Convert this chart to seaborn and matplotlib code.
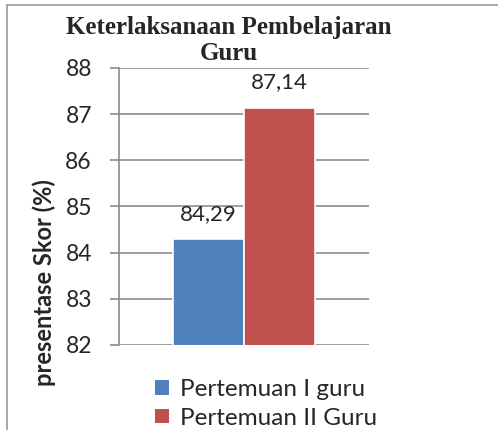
import pandas as pd
import matplotlib
matplotlib.use("Agg")
import matplotlib.pyplot as plt
import seaborn as sns
from matplotlib.lines import Line2D
from matplotlib.patches import Patch

# data
kategori = ["Guru"]
seri = ["Pertemuan I guru", "Pertemuan II Guru"]
nilai = [84.29, 87.14]
label_nilai = ["84,29", "87,14"]
warna = ["#4F81BD", "#C0504D"]
yticks = [82, 83, 84, 85, 86, 87, 88]
judul = ["Keterlaksanaan Pembelajaran", "Guru"]

df = pd.DataFrame({"kategori": kategori * len(seri), "seri": seri, "nilai": nilai})

sns.set_theme(style="white")
plt.rcParams["font.family"] = ["Lato", "DejaVu Sans"]

fig = plt.figure(figsize=(4.98, 4.30), dpi=100)
ax = fig.add_axes([0.239, 0.198, 0.502, 0.644])

sns.barplot(data=df, x="kategori", y="nilai", hue="seri", palette=warna, saturation=1,
            width=0.57, gap=0.0, edgecolor="white", linewidth=1.2, ax=ax,
            legend=False)

ax.set_ylim(82, 88)
ax.set_xlim(-0.5, 0.5)
ax.set_yticks(yticks)
ax.set_yticklabels([str(t) for t in yticks], fontsize=16.5)
ax.yaxis.grid(True, color="#8c8c8c", linewidth=1.2)
ax.set_axisbelow(True)
ax.tick_params(axis="y", direction="out", length=6.5, width=1.2, color="#8c8c8c", pad=13, left=True)
ax.set_xticks([])
ax.set_xlabel("")
ax.set_ylabel("")
for s in ["top", "right", "bottom"]:
    ax.spines[s].set_visible(False)
ax.spines["left"].set_color("#8c8c8c")
ax.spines["left"].set_linewidth(1.2)

for cont, lab in zip(ax.containers, label_nilai):
    ax.bar_label(cont, labels=[lab], padding=11, fontsize=16)

fig.text(0.088, 0.344, "presentase Skor (%)", rotation=90, ha="center", va="center",
         fontsize=17, fontweight="bold")
# judul dua baris, ditulis terpisah
fig.text(0.46, 0.935, judul[0], ha="center", va="center",
         fontsize=18, fontweight="bold", family=["Liberation Serif"])
fig.text(0.46, 0.875, judul[1], ha="center", va="center",
         fontsize=18, fontweight="bold", family=["Liberation Serif"])

handles = [Patch(facecolor=c, edgecolor="none") for c in warna]
fig.legend(handles, seri, loc="upper left", bbox_to_anchor=(0.312, 0.119), frameon=False,
           fontsize=17.5, handlelength=0.55, handleheight=0.55, handletextpad=0.45,
           labelspacing=0.32, borderpad=0, borderaxespad=0)

fig.add_artist(Line2D([7 / 498, 7 / 498], [0, 1 - 5 / 430], color="#9a9a9a", linewidth=1.2))
fig.add_artist(Line2D([7 / 498, 1], [1 - 5 / 430, 1 - 5 / 430], color="#9a9a9a", linewidth=1.2))

fig.savefig("out.png", dpi=100)
